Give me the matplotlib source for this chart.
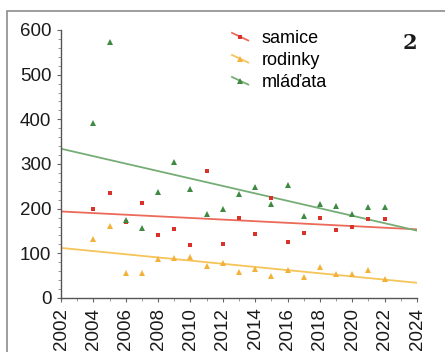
import numpy as np
import matplotlib
matplotlib.use("Agg")
import matplotlib.pyplot as plt
from matplotlib.lines import Line2D
from matplotlib.patches import Rectangle
from matplotlib.ticker import MultipleLocator
from matplotlib.legend_handler import HandlerBase

years = list(range(2004, 2023))
samice = [200, 235, 170, 213, 140, 154, 119, 285, 122, 180, 143, 225, 126, 145, 180, 152, 159, 177, 176]
rodinky = [131, 161, 57, 57, 87, 90, 91, 71, 79, 58, 64, 50, 63, 47, 69, 53, 54, 63, 43]
mladata = [392, 573, 175, 156, 238, 304, 243, 187, 199, 233, 249, 210, 254, 184, 210, 206, 187, 204, 204]
labels = ["samice", "rodinky", "mláďata"]
x_ticks = list(range(2002, 2025, 2))
y_ticks = [0, 100, 200, 300, 400, 500, 600]

plt.rcParams['font.family'] = ['Liberation Sans', 'DejaVu Sans']

fig = plt.figure(figsize=(4.45, 3.52), dpi=100)
W, H = 445, 352
ax = fig.add_axes([61 / W, 1 - 298 / H, (417 - 61) / W, (298 - 30) / H])

# outer frame
fig.patches.append(Rectangle((7 / W, -0.1), 1.2, 1 - 11 / H + 0.1, transform=fig.transFigure,
                             fill=False, edgecolor='#8c8c8c', linewidth=1.2))


class SlantHandler(HandlerBase):
    def create_artists(self, legend, orig_handle, xdescent, ydescent, width, height,
                       fontsize, trans):
        x0, y0 = -xdescent, -ydescent
        ln = Line2D([x0, x0 + width], [y0 + height * 0.8, y0 + height * 0.2],
                    color=orig_handle.get_color(), linewidth=1.3, transform=trans)
        mk = Line2D([x0 + width / 2], [y0 + height / 2], linestyle='none',
                    marker=orig_handle.get_marker(), markersize=orig_handle.get_markersize(),
                    color=orig_handle.get_markerfacecolor(), markeredgewidth=0,
                    transform=trans)
        return [ln, mk]


series = [
    (samice, '#d8332b', '#ec6a5a', 's', 3.4),
    (rodinky, '#f3b13a', '#f6c45a', '^', 3.8),
    (mladata, '#3e8a41', '#76ad76', '^', 3.8),
]
xs = np.array(years, dtype=float)
xfit = np.array([2002.0, 2024.0])
handles = []
for (vals, mcol, lcol, mk, ms), lab in zip(series, labels):
    ax.plot(years, vals, linestyle='none', marker=mk, markersize=ms, color=mcol,
            markeredgewidth=0, zorder=3)
    k, b = np.polyfit(xs, np.array(vals, dtype=float), 1)
    ax.plot(xfit, k * xfit + b, color=lcol, linewidth=1.3, zorder=2)
    handles.append(Line2D([], [], color=lcol, linewidth=1.3, marker=mk, markersize=ms,
                          markerfacecolor=mcol, markeredgewidth=0))

ax.set_xlim(2002, 2024)
ax.set_ylim(0, 600)
ax.set_xticks(x_ticks)
ax.set_xticklabels([str(t) for t in x_ticks], rotation=90)
ax.set_yticks(y_ticks)
ax.xaxis.set_minor_locator(MultipleLocator(1))
ax.yaxis.set_minor_locator(MultipleLocator(20))
for s in ['top', 'right']:
    ax.spines[s].set_visible(False)
for s in ['left', 'bottom']:
    ax.spines[s].set_color('#555555')
    ax.spines[s].set_linewidth(1.0)
ax.tick_params(which='major', length=3, width=0.8, color='#666666', labelsize=13.5,
               labelcolor='#1a1a1a', pad=4)
ax.tick_params(which='minor', length=2, width=0.6, color='#888888')

leg = ax.legend(handles, labels, loc='upper left', bbox_to_anchor=((232 - 61) / 356, 1.0),
                frameon=False, fontsize=13, handlelength=0.9, handletextpad=0.75,
                labelspacing=0.28, borderaxespad=0, borderpad=0,
                handler_map={Line2D: SlantHandler()})

fig.text(410 / W, 1 - 43 / H, '2', fontsize=15, fontweight='bold', family='DejaVu Serif',
         ha='center', va='center', color='#1a1a1a')

fig.savefig('out.png', dpi=100)
